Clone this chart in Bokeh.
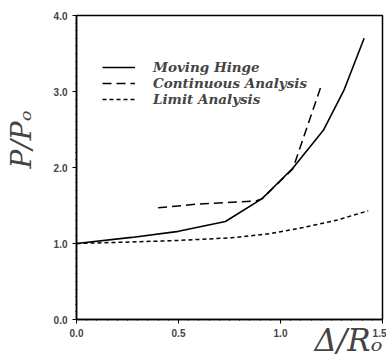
from bokeh.plotting import figure
from bokeh.models import Range1d, Legend, LegendItem, FixedTicker, Title
from bokeh.embed import file_html
from bokeh.resources import INLINE

# Data
hinge_x = [0.0, 0.27, 0.50, 0.73, 0.91, 1.06, 1.21, 1.31, 1.41]
hinge_y = [1.00, 1.08, 1.16, 1.29, 1.59, 1.99, 2.49, 3.01, 3.70]

cont_x = [0.40, 0.60, 0.88, 0.91, 1.06, 1.20]
cont_y = [1.47, 1.52, 1.56, 1.59, 1.98, 3.08]

limit_x = [0.0, 0.27, 0.50, 0.76, 0.95, 1.11, 1.28, 1.43]
limit_y = [1.00, 1.02, 1.04, 1.075, 1.13, 1.21, 1.31, 1.43]

x_ticks = [0.0, 0.5, 1.0, 1.5]
y_ticks = [0.0, 1.0, 2.0, 3.0, 4.0]

p = figure(width=386, height=357, output_backend="svg", toolbar_location=None,
           x_range=Range1d(0, 1.5), y_range=Range1d(0, 4.0),
           min_border_left=76, min_border_right=4, min_border_top=15, min_border_bottom=38)
p.xgrid.visible = False
p.ygrid.visible = False
p.outline_line_color = "black"
p.outline_line_width = 1.5

for ax in (p.xaxis[0], p.yaxis[0]):
    ax.axis_line_width = 1.5
    ax.major_label_text_font = "Liberation Sans"
    ax.major_label_text_font_style = "bold"
    ax.major_label_text_font_size = "10px"
    ax.major_tick_in = 0
    ax.major_tick_out = 4
    ax.minor_tick_in = 0
    ax.minor_tick_out = 1
p.xaxis.ticker = FixedTicker(ticks=x_ticks, minor_ticks=[i * 0.05 for i in range(31)])
p.yaxis.ticker = FixedTicker(ticks=y_ticks, minor_ticks=[i * 0.1 for i in range(41)])
p.xaxis.major_label_overrides = {t: f"{t:.1f}" for t in x_ticks}
p.yaxis.major_label_overrides = {t: f"{t:.1f}" for t in y_ticks}

# x label: right-aligned title in the bottom panel, pulled up next to the tick labels
p.add_layout(Title(text="Δ/Rₒ", align="right", vertical_align="top", standoff=-36,
                   offset=0, text_font="DejaVu Serif", text_font_style="italic",
                   text_font_size="31px"), "below")

p.yaxis.axis_label = "\u2003\u2003P/Pₒ"
p.yaxis.axis_label_standoff = 13
p.yaxis.axis_label_text_font = "DejaVu Serif"
p.yaxis.axis_label_text_font_style = "italic"
p.yaxis.axis_label_text_font_size = "28px"

r1 = p.line(hinge_x, hinge_y, line_color="black", line_width=1.6)
r2 = p.line(cont_x, cont_y, line_color="black", line_width=1.5, line_dash="9 5")
r3 = p.line(limit_x, limit_y, line_color="black", line_width=1.5, line_dash="4 3")

legend = Legend(items=[LegendItem(label="Moving Hinge", renderers=[r1]),
                       LegendItem(label="Continuous Analysis", renderers=[r2]),
                       LegendItem(label="Limit Analysis", renderers=[r3])],
                location=(26, 212), background_fill_alpha=0, border_line_alpha=0,
                padding=0, spacing=0, margin=0, label_height=14, glyph_height=14,
                glyph_width=33, label_standoff=18,
                label_text_font="DejaVu Serif", label_text_font_style="bold italic",
                label_text_font_size="13.5px", label_text_line_height=1.0)
p.add_layout(legend, "center")

open("out.html", "w").write(file_html(p, INLINE))
